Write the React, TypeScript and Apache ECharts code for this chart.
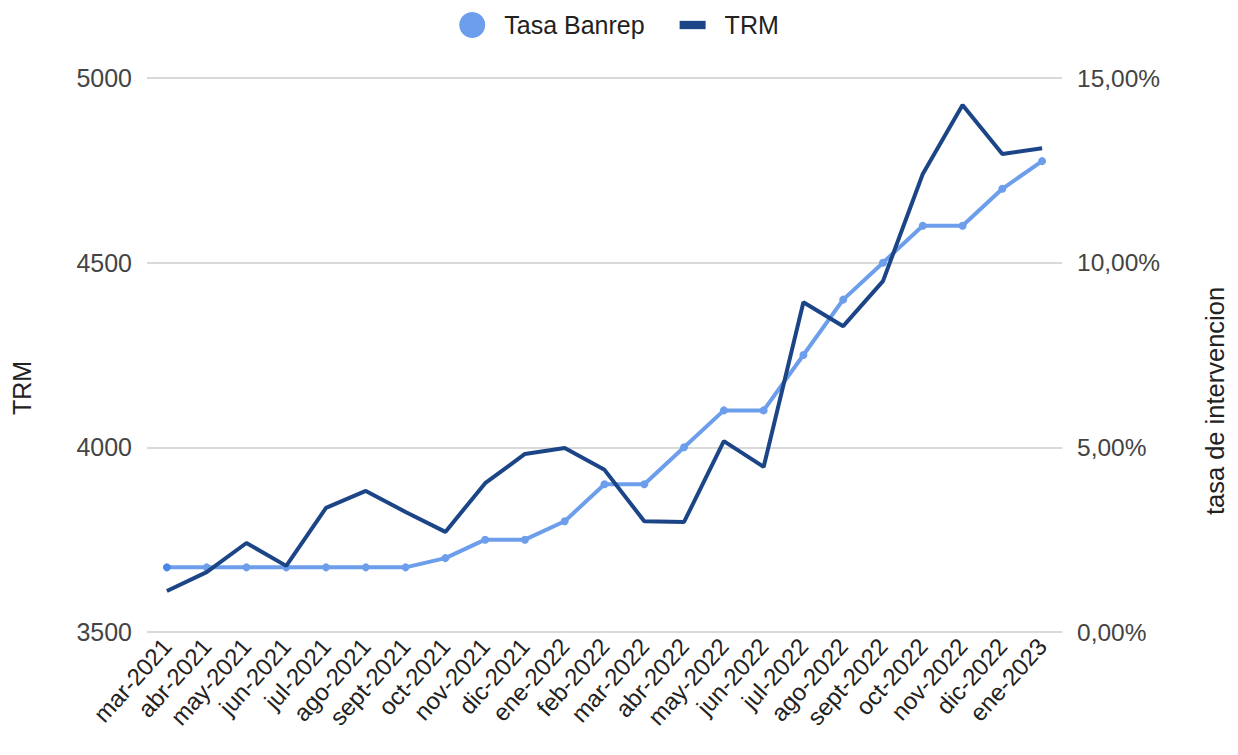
import React, { useEffect, useRef } from "react";
import * as echarts from "echarts";

const categories = [
  "mar-2021", "abr-2021", "may-2021", "jun-2021", "jul-2021", "ago-2021",
  "sept-2021", "oct-2021", "nov-2021", "dic-2021", "ene-2022", "feb-2022",
  "mar-2022", "abr-2022", "may-2022", "jun-2022", "jul-2022", "ago-2022",
  "sept-2022", "oct-2022", "nov-2022", "dic-2022", "ene-2023",
];

const trmValues = [
  3611, 3662, 3741, 3679, 3836, 3882, 3825, 3771, 3903, 3982, 3998, 3939,
  3800, 3798, 4017, 3947, 4393, 4328, 4450, 4740, 4927, 4794, 4810,
];

const tasaValues = [
  1.75, 1.75, 1.75, 1.75, 1.75, 1.75, 1.75, 2.0, 2.5, 2.5, 3.0, 4.0,
  4.0, 5.0, 6.0, 6.0, 7.5, 9.0, 10.0, 11.0, 11.0, 12.0, 12.75,
];

const leftTicks = { min: 3500, max: 5000, interval: 500 };
const rightTicks = { min: 0, max: 15, interval: 5 };

const FONT = "'Liberation Sans', Arial, sans-serif";
const TRM_COLOR = "#1c4587";
const TASA_COLOR = "#6d9eeb";

export default function App() {
  const ref = useRef<HTMLDivElement>(null);

  useEffect(() => {
    document.body.style.margin = "0";
    if (!ref.current) return;
    const chart = echarts.init(ref.current, undefined, { renderer: "svg" });
    chart.setOption({
      animation: false,
      textStyle: { fontFamily: FONT },
      legend: {
        top: 7,
        left: "center",
        itemWidth: 26,
        itemHeight: 26,
        itemGap: 35,
        textStyle: { fontSize: 25, color: "#222", fontFamily: FONT, padding: [0, 0, 0, 14] },
        data: [
          { name: "Tasa Banrep", icon: "circle" },
          { name: "TRM", icon: "path://M0,0h25v8h-25z" },
        ],
      },
      grid: { left: 147, right: 176, top: 78, bottom: 123, containLabel: false },
      xAxis: {
        type: "category",
        data: categories,
        boundaryGap: true,
        axisLine: { show: false },
        axisTick: { show: false },
        axisLabel: {
          interval: 0,
          rotate: 48,
          fontSize: 24,
          color: "#222",
          margin: 10,
          fontFamily: FONT,
        },
      },
      yAxis: [
        {
          type: "value",
          min: leftTicks.min,
          max: leftTicks.max,
          interval: leftTicks.interval,
          axisLine: { show: false },
          axisTick: { show: false },
          axisLabel: {
            fontSize: 25,
            color: "#444",
            margin: 15,
            fontFamily: FONT,
            formatter: (v: number) => String(v),
          },
          splitLine: { lineStyle: { color: "#cccccc", width: 1.5 } },
        },
        {
          type: "value",
          min: rightTicks.min,
          max: rightTicks.max,
          interval: rightTicks.interval,
          position: "right",
          axisLine: { show: false },
          axisTick: { show: false },
          splitLine: { show: false },
          axisLabel: {
            fontSize: 24.5,
            color: "#444",
            margin: 15,
            fontFamily: FONT,
            formatter: (v: number) => v.toFixed(2).replace(".", ",") + "%",
          },
        },
      ],
      graphic: [
        {
          type: "text",
          x: 22,
          y: 388,
          rotation: Math.PI / 2,
          style: {
            text: "TRM",
            fontSize: 25,
            fill: "#222",
            fontFamily: FONT,
            align: "center",
            verticalAlign: "middle",
          },
        },
        {
          type: "text",
          x: 1215,
          y: 401,
          rotation: Math.PI / 2,
          style: {
            text: "tasa de intervencion",
            fontSize: 25.5,
            fill: "#222",
            fontFamily: FONT,
            align: "center",
            verticalAlign: "middle",
          },
        },
      ],
      series: [
        {
          name: "Tasa Banrep",
          type: "line",
          yAxisIndex: 1,
          data: tasaValues.map((v, i) =>
            i === 0 ? { value: v, itemStyle: { color: "#4a86e8" } } : v
          ),
          symbol: "circle",
          symbolSize: 8,
          showAllSymbol: true,
          itemStyle: { color: TASA_COLOR },
          lineStyle: { color: TASA_COLOR, width: 4 },
          z: 2,
        },
        {
          name: "TRM",
          type: "line",
          yAxisIndex: 0,
          data: trmValues,
          showSymbol: false,
          symbol: "none",
          itemStyle: { color: TRM_COLOR },
          lineStyle: { color: TRM_COLOR, width: 4 },
          z: 3,
        },
      ],
    });
    return () => chart.dispose();
  }, []);

  return <div ref={ref} style={{ width: 1238, height: 755 }} />;
}
